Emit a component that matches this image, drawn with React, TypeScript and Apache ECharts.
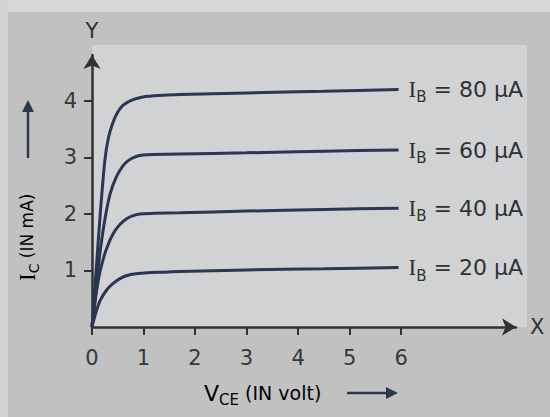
import React, { useEffect, useRef } from "react";
import * as echarts from "echarts";

// ---- data ----
const X_TICKS = [0, 1, 2, 3, 4, 5, 6];
const Y_TICKS = [1, 2, 3, 4];
const IB_LABELS = ["80", "60", "40", "20"];

const ib80: [number, number][] = [
  [0, 0], [0.08, 1.0], [0.16, 2.0], [0.25, 2.95], [0.32, 3.35], [0.4, 3.6], [0.5, 3.8],
  [0.6, 3.92], [0.74, 4.0], [0.9, 4.05], [1.07, 4.08], [1.4, 4.1], [1.7, 4.11], [3, 4.14],
  [4.5, 4.17], [5.95, 4.2],
];
const ib60: [number, number][] = [
  [0, 0], [0.08, 0.72], [0.16, 1.35], [0.25, 1.9], [0.35, 2.35], [0.47, 2.65], [0.6, 2.85],
  [0.73, 2.96], [0.87, 3.02], [1.0, 3.04], [1.18, 3.05], [1.7, 3.06], [3, 3.08], [4.5, 3.11],
  [5.95, 3.13],
];
const ib40: [number, number][] = [
  [0, 0], [0.08, 0.58], [0.16, 1.0], [0.28, 1.38], [0.41, 1.65], [0.55, 1.82], [0.68, 1.92],
  [0.8, 1.97], [0.93, 2.0], [1.2, 2.01], [1.7, 2.02], [3, 2.05], [4.5, 2.08], [5.95, 2.1],
];
const ib20: [number, number][] = [
  [0, 0], [0.08, 0.27], [0.16, 0.47], [0.28, 0.65], [0.41, 0.77], [0.55, 0.86], [0.68, 0.91],
  [0.85, 0.94], [1.07, 0.96], [1.4, 0.97], [1.7, 0.98], [3, 1.01], [4.5, 1.03], [5.95, 1.05],
];
const CURVES = [ib80, ib60, ib40, ib20];

const SANS = "DejaVu Sans";
const SERIF = "Liberation Serif";
const INK = "#2f3233";
const CURVE = "#2b3653";

export default function App() {
  const ref = useRef<HTMLDivElement>(null);

  useEffect(() => {
    if (!ref.current) return;
    const chart = echarts.init(ref.current, undefined, { renderer: "svg" });

    const series = CURVES.map((data, i) => ({
      type: "line",
      name: "IB " + IB_LABELS[i],
      data,
      smooth: 0.25,
      showSymbol: false,
      symbol: "none",
      lineStyle: { color: CURVE, width: 3 },
      endLabel: {
        show: true,
        distance: 10,
        offset: [0, 0],
        formatter: () => `{i|I}{b|B}{t| = ${IB_LABELS[i]} µA}`,
        rich: {
          i: { fontFamily: SERIF, fontSize: 23, color: INK },
          b: { fontFamily: SANS, fontSize: 15, color: INK, padding: [16, 0, 0, 0] },
          t: { fontFamily: SANS, fontSize: 22, color: INK },
        },
      },
    }));

    chart.setOption({
      animation: false,
      backgroundColor: "#c1c1c2",
      grid: { left: 92, right: 34, top: 55, bottom: 90, outerBoundsMode: "none" },
      xAxis: {
        type: "value",
        min: 0,
        max: 8.23,
        name: "X",
        nameLocation: "end",
        nameGap: 14,
        nameTextStyle: { fontFamily: SANS, fontSize: 21, color: INK, verticalAlign: "middle" },
        axisLine: {
          show: true,
          symbol: ["none", "arrow"],
          symbolSize: [13, 14],
          lineStyle: { color: INK, width: 2.5 },
        },
        axisTick: {
          show: true,
          customValues: X_TICKS,
          length: 8,
          lineStyle: { color: INK, width: 2 },
        },
        axisLabel: {
          customValues: X_TICKS,
          margin: 20,
          fontFamily: SANS,
          fontSize: 21,
          color: "#353838",
        },
        splitLine: { show: false },
      },
      yAxis: {
        type: "value",
        min: 0,
        max: 4.81,
        name: "Y",
        nameLocation: "end",
        nameGap: 14,
        nameTextStyle: { fontFamily: SANS, fontSize: 21, color: INK, align: "center" },
        axisLine: {
          show: true,
          symbol: ["none", "arrow"],
          symbolSize: [13, 14],
          lineStyle: { color: INK, width: 2.5 },
        },
        axisTick: {
          show: true,
          customValues: Y_TICKS,
          length: 8,
          lineStyle: { color: INK, width: 2 },
        },
        axisLabel: {
          customValues: Y_TICKS,
          margin: 15,
          padding: [6, 0, 0, 0],
          fontFamily: SANS,
          fontSize: 21,
          color: "#353838",
        },
        splitLine: { show: false },
      },
      graphic: [
        { type: "rect", z: -10, shape: { x: 0, y: 0, width: 550, height: 12 }, style: { fill: "#d8d8d8" } },
        { type: "rect", z: -10, shape: { x: 0, y: 0, width: 8, height: 417 }, style: { fill: "#d2d2d2" } },
        { type: "rect", z: -10, shape: { x: 92, y: 45, width: 435, height: 282 }, style: { fill: "#d1d2d4" } },
        {
          type: "text",
          left: 204,
          top: 382,
          style: {
            text: "{v|V}{s|CE}{n| (IN volt)}",
            rich: {
              v: { fontFamily: SANS, fontSize: 22, color: INK },
              s: { fontFamily: SANS, fontSize: 15, color: INK, padding: [14, 0, 0, 0] },
              n: { fontFamily: SANS, fontSize: 19, color: INK },
            },
          },
        },
        {
          type: "line",
          shape: { x1: 347, y1: 393, x2: 388, y2: 393 },
          style: { stroke: "#2c3a48", lineWidth: 2.5 },
        },
        {
          type: "polygon",
          shape: { points: [[386, 387], [398, 393], [386, 399]] },
          style: { fill: "#2c3a48" },
        },
        {
          type: "text",
          x: 27,
          y: 281,
          rotation: Math.PI / 2,
          style: {
            text: "{v|I}{s|C}{n| (IN mA)}",
            align: "left",
            verticalAlign: "middle",
            rich: {
              v: { fontFamily: SERIF, fontSize: 23, color: INK },
              s: { fontFamily: SANS, fontSize: 14, color: INK, padding: [14, 0, 0, 0] },
              n: { fontFamily: SANS, fontSize: 17, color: INK },
            },
          },
        },
        {
          type: "line",
          shape: { x1: 28, y1: 158, x2: 28, y2: 110 },
          style: { stroke: "#2c3a48", lineWidth: 2.5 },
        },
        {
          type: "polygon",
          shape: { points: [[22, 112], [28, 100], [34, 112]] },
          style: { fill: "#2c3a48" },
        },
      ],
      series,
    });

    return () => chart.dispose();
  }, []);

  return (
    <div
      ref={ref}
      style={{ position: "fixed", left: 0, top: 0, width: 550, height: 417 }}
    />
  );
}
